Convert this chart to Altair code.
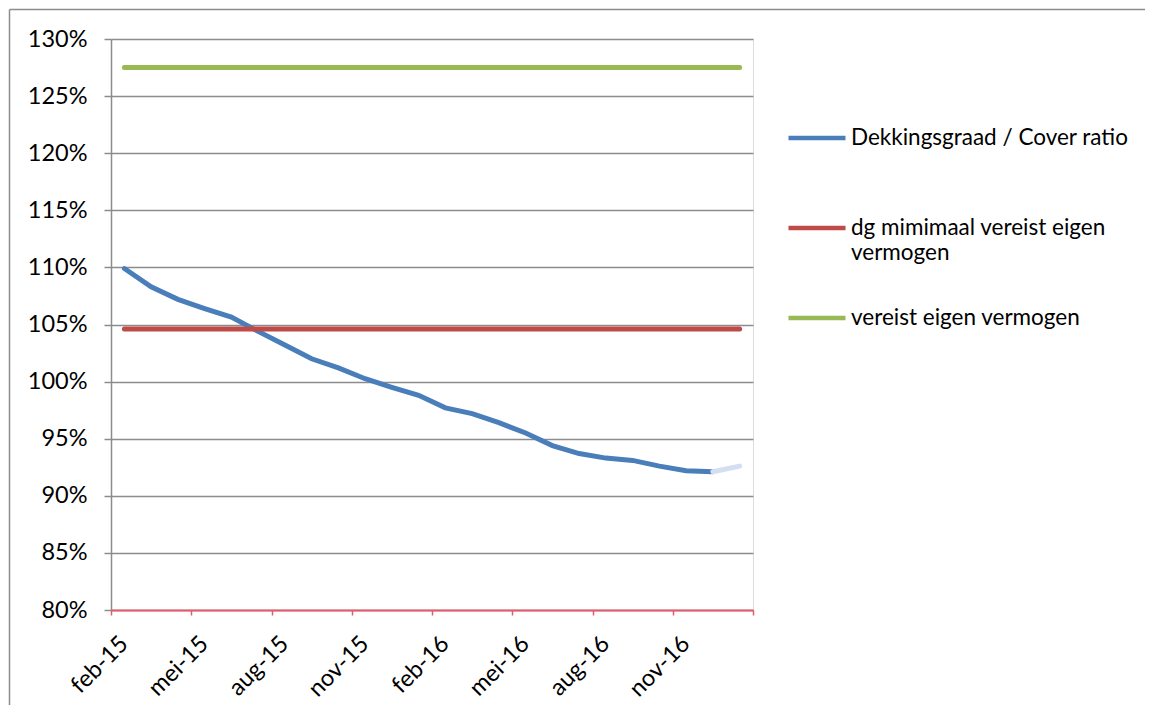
import altair as alt
import pandas as pd

months = ["feb-15", "mrt-15", "apr-15", "mei-15", "jun-15", "jul-15", "aug-15", "sep-15",
          "okt-15", "nov-15", "dec-15", "jan-16", "feb-16", "mrt-16", "apr-16", "mei-16",
          "jun-16", "jul-16", "aug-16", "sep-16", "okt-16", "nov-16", "dec-16", "jan-17"]
cover_ratio = [1.099, 1.083, 1.072, 1.064, 1.0565, 1.044, 1.032, 1.020, 1.012, 1.0025,
               0.995, 0.988, 0.977, 0.972, 0.964, 0.955, 0.944, 0.937, 0.933, 0.931,
               0.926, 0.922, 0.921]
cover_ratio_last = [0.921, 0.926]
dg_minimaal = [1.046] * 24
vereist = [1.275] * 24

S1 = "Dekkingsgraad / Cover ratio"
S2 = "dg mimimaal vereist eigen vermogen"
S3 = "vereist eigen vermogen"

rows = []
for i, v in enumerate(cover_ratio):
    rows.append({"i": i, "v": v, "s": S1})
for i, v in enumerate(dg_minimaal):
    rows.append({"i": i, "v": v, "s": S2})
for i, v in enumerate(vereist):
    rows.append({"i": i, "v": v, "s": S3})
df = pd.DataFrame(rows)
df_last = pd.DataFrame({"i": [22, 23], "v": cover_ratio_last})

FONT = "Lato"
FS = 22.5
AFS = 23.5

label_arr = "[" + ",".join("'" + m + "'" for m in months) + "]"
x_scale = alt.Scale(domain=[-0.5, 23.5], nice=False, zero=False)
y_scale = alt.Scale(domain=[0.8, 1.3], nice=False, zero=False)

x_axis = alt.Axis(
    values=[-0.5 + 3 * k for k in range(9)],
    labelExpr=label_arr + "[datum.value + 0.5] || ''",
    labelAngle=-45, labelAlign="right", labelBaseline="middle",
    labelOffset=13, labelPadding=25, labelFont=FONT, labelFontSize=AFS, labelColor="#000000",
    labelFlush=False, labelOverlap=False,
    domainColor="#E25C6C", domainWidth=2, tickColor="#E25C6C", tickSize=5, tickWidth=1.5,
    grid=False, title=None, zindex=1,
)
y_axis = alt.Axis(
    values=[0.80 + 0.05 * k for k in range(11)], format=".0%",
    labelFont=FONT, labelFontSize=AFS, labelColor="#000000", labelPadding=17,
    domainColor="#8C8C8C", domainWidth=1.5, tickColor="#8C8C8C", tickSize=7, tickWidth=1.5,
    gridColor="#8C8C8C", gridWidth=1.5, title=None,
)

color = alt.Color(
    "s:N",
    scale=alt.Scale(domain=[S1, S2, S3], range=["#4A7EBB", "#BE4B48", "#98B954"]),
    sort=[S1, S2, S3],
    legend=alt.Legend(
        title=None, orient="none", legendX=675, legendY=68,
        symbolType="stroke", symbolSize=3249, symbolStrokeWidth=4.5,
        labelFont=FONT, labelFontSize=FS, labelColor="#000000", labelOffset=3,
        labelLimit=400, rowPadding=23, gridAlign="all",
        labelExpr="datum.label == '" + S2 + "' ? ['dg mimimaal vereist eigen', 'vermogen'] : datum.label",
    ),
)

lines = alt.Chart(df).mark_line(strokeWidth=5, strokeCap="round").encode(
    x=alt.X("i:Q", scale=x_scale, axis=x_axis),
    y=alt.Y("v:Q", scale=y_scale, axis=y_axis),
    color=color,
    order=alt.Order("i:Q"),
)
last = alt.Chart(df_last).mark_line(strokeWidth=5, strokeCap="round", color="#D3DFF0").encode(
    x=alt.X("i:Q", scale=x_scale),
    y=alt.Y("v:Q", scale=y_scale),
)
frame_df = pd.DataFrame({"a": [0]})
border_left = alt.Chart(frame_df).mark_rule(stroke="#8C8C8C", strokeWidth=1.5, clip=False).encode(
    x=alt.value(-101.5), y=alt.value(-29.5), y2=alt.value(666)
)
border_top = alt.Chart(frame_df).mark_rule(stroke="#8C8C8C", strokeWidth=1.5, clip=False).encode(
    x=alt.value(-101.5), x2=alt.value(1034), y=alt.value(-29.5)
)

chart = alt.layer(border_left, border_top, lines, last).properties(
    width=642, height=571, padding=0
).configure_view(stroke=None).configure(background="white")

chart.save("out.html", embed_options={"renderer": "svg", "actions": False})
